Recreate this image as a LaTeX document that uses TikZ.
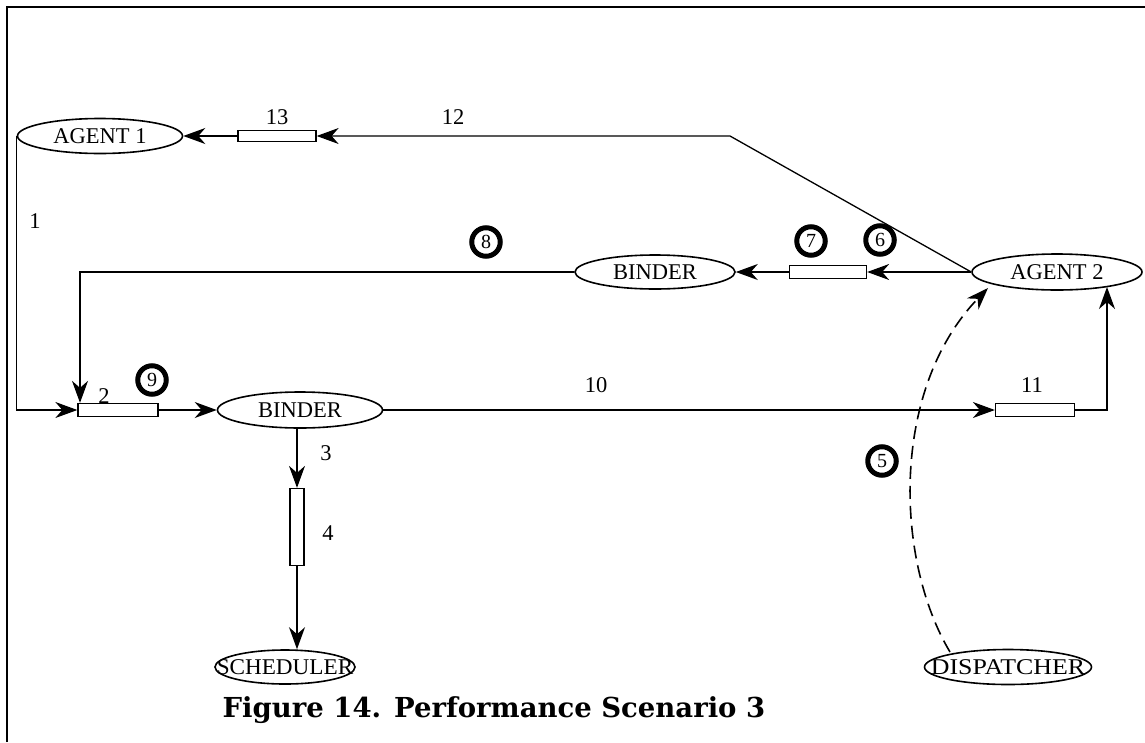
\documentclass[tikz,border=0pt]{standalone}
\usepackage{fontspec}
\setmainfont{Liberation Serif}
\newfontfamily\capfont{DejaVu Serif}
\usetikzlibrary{shapes.geometric,arrows.meta}
\begin{document}
\begin{tikzpicture}[x=1pt,y=-1pt,
  every node/.style={font=\fontsize{22.5}{24}\selectfont},
  ell/.style={draw,ellipse,line width=1.6pt,inner sep=0pt},
  bar/.style={draw,rectangle,line width=1.3pt,inner sep=0pt,fill=white},
  num/.style={draw,circle,line width=5pt,minimum size=28.5pt,inner sep=0pt,font=\fontsize{20}{22}\selectfont},
  lab/.style={inner sep=0pt},
  tip/.style={-{Stealth[length=22pt,width=16pt,inset=7pt]}},
  con/.style={line width=1.3pt},
]
\useasboundingbox (0,0) rectangle (1145,742);
% frame
\draw[line width=2pt] (7,742) -- (7,7) -- (1145,7);

% nodes
\node[ell,minimum width=165pt,minimum height=35pt] (agent1) at (100,136) {AGENT 1};
\node[bar,minimum width=78pt,minimum height=11pt] (box13) at (277,136) {};
\node[ell,minimum width=170pt,minimum height=36pt] (agent2) at (1057,272) {AGENT 2};
\node[bar,minimum width=77pt,minimum height=13pt] (box7) at (828,272) {};
\node[ell,minimum width=160pt,minimum height=34pt] (binder1) at (655,272) {BINDER};
\node[bar,minimum width=80pt,minimum height=13pt] (box2) at (118,410) {};
\node[ell,minimum width=165pt,minimum height=36pt] (binder2) at (300,410) {BINDER};
\node[bar,minimum width=79pt,minimum height=13pt] (box11) at (1035,410) {};
\node[bar,minimum width=14pt,minimum height=77pt] (box4) at (297,527) {};
\node[ell,minimum width=140pt,minimum height=34pt] (sched) at (285,667) {\makebox[90pt][c]{\scalebox{1.03}[1]{SCHEDULER}}};
\node[ell,minimum width=167pt,minimum height=35pt] (disp) at (1008,667) {\makebox[90pt][c]{\scalebox{1.15}[1]{DISPATCHER}}};

% step circles
\node[num] (c5) at (882,461) {5};
\node[num] (c6) at (880,240) {6};
\node[num] (c7) at (811,241) {7};
\node[num] (c8) at (486,242) {8};
\node[num] (c9) at (152,380) {9};

% labels
\node[lab] (l1) at (35,221) {1};
\node[lab] (l2) at (104,396) {2};
\node[lab] (l3) at (326,453) {3};
\node[lab] (l4) at (328,533) {4};
\node[lab] (l10) at (596,385) {10};
\node[lab] (l11) at (1032,385) {11};
\node[lab] (l12) at (453,117) {12};
\node[lab] (l13) at (277,117) {13};

% helper coordinates
\coordinate (k12) at (730,136);
\coordinate (k8) at (80,272);
\coordinate (a2b) at (1107,287);
\coordinate (a2l) at (988,288);
\coordinate (dtop) at (950,652);

% connectors
\draw[con,tip] (box13.west) -- (agent1.east);
\draw[con,tip] (agent2.west) -- (k12) -- (box13.east);
\draw[con,tip] (agent1.west) |- (box2.west);
\draw[con,tip] (agent2.west) -- (box7.east);
\draw[con,tip] (box7.west) -- (binder1.east);
\draw[con,tip] (binder1.west) -- (k8) -- (box2.north west -| k8);
\draw[con,tip] (box2.east) -- (binder2.west);
\draw[con,tip] (binder2.east) -- (box11.west);
\draw[con,tip] (box11.east) -| (a2b);
\draw[con,tip] (binder2.south -| box4.north) -- (box4.north);
\draw[con,tip] (box4.south) -- (box4.south |- sched.north);
\draw[con,line width=1.6pt,tip,dash pattern=on 13pt off 7pt] (dtop) .. controls (895,560) and (890,390) .. (a2l);

% caption
\node[inner sep=0pt,font=\capfont\bfseries\fontsize{27.5}{30}\selectfont] (cap) at (494,710) {Figure 14. Performance Scenario 3};
\end{tikzpicture}
\end{document}
